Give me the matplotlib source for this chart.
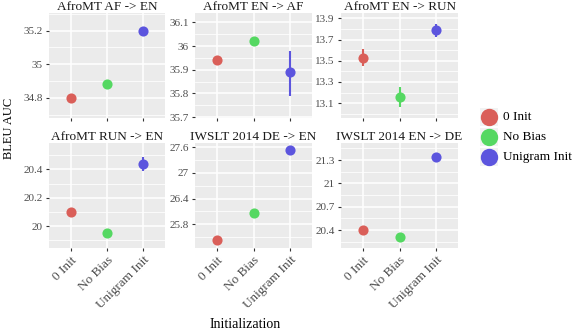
import numpy as np
import matplotlib
matplotlib.use("Agg")
import matplotlib.pyplot as plt
from matplotlib.ticker import AutoMinorLocator

plt.rcParams['font.family'] = ['Liberation Serif', 'DejaVu Serif']

inits = ["0 Init", "No Bias", "Unigram Init"]
colors = ["#DA5F59", "#55D862", "#5C55DE"]

titles = ["AfroMT AF -> EN", "AfroMT EN -> AF", "AfroMT EN -> RUN",
          "AfroMT RUN -> EN", "IWSLT 2014 DE -> EN", "IWSLT 2014 EN -> DE"]
means = [[34.80, 34.88, 35.20],
         [35.94, 36.02, 35.89],
         [13.53, 13.16, 13.79],
         [20.10, 19.95, 20.44],
         [25.43, 26.07, 27.54],
         [20.40, 20.31, 21.34]]
lows = [[34.79, 34.87, 35.19],
        [35.935, 36.015, 35.79],
        [13.45, 13.06, 13.72],
        [20.09, 19.94, 20.39],
        [25.42, 26.06, 27.52],
        [20.39, 20.30, 21.30]]
highs = [[34.81, 34.89, 35.21],
         [35.945, 36.025, 35.98],
         [13.61, 13.25, 13.85],
         [20.11, 19.96, 20.49],
         [25.44, 26.08, 27.56],
         [20.41, 20.32, 21.38]]
yticks = [[34.8, 35.0, 35.2],
          [35.7, 35.8, 35.9, 36.0, 36.1],
          [13.1, 13.3, 13.5, 13.7, 13.9],
          [20.0, 20.2, 20.4],
          [25.8, 26.4, 27.0, 27.6],
          [20.4, 20.7, 21.0, 21.3]]
ylims = [(34.68, 35.305), (35.696, 36.14), (12.96, 13.95),
         (19.845, 20.586), (25.245, 27.70), (20.17, 21.52)]

W, H = 576, 330
fig = plt.figure(figsize=(W / 100, H / 100), dpi=100)

def px_axes(x0, y0, x1, y1):
    return fig.add_axes([x0 / W, 1 - y1 / H, (x1 - x0) / W, (y1 - y0) / H])

cols = [(49, 165), (195, 312), (341, 458)]
rows = [(13, 118), (143, 248)]

for i in range(6):
    r, c = divmod(i, 3)
    ax = px_axes(cols[c][0], rows[r][0], cols[c][1], rows[r][1])
    ax.set_facecolor("#EBEBEB")
    for s in ax.spines.values():
        s.set_visible(False)
    ax.set_xlim(-0.6, 2.6)
    ax.set_ylim(*ylims[i])
    ax.set_xticks(range(3))
    ax.set_yticks(yticks[i])
    ax.set_yticklabels([f"{v:g}" for v in yticks[i]])
    ax.yaxis.set_minor_locator(AutoMinorLocator(2))
    ax.grid(True, which="major", color="white", linewidth=1.1)
    ax.grid(True, which="minor", axis="y", color="white", linewidth=0.55)
    ax.set_axisbelow(True)
    ax.tick_params(axis="both", which="major", length=2.5, width=0.8, color="#333333",
                   labelsize=8, labelcolor="#4D4D4D", pad=2)
    ax.tick_params(axis="x", labelsize=9.5)
    ax.tick_params(axis="y", which="minor", length=0)
    if r == 1:
        ax.set_xticklabels(inits, rotation=45, ha="right", rotation_mode="anchor")
    else:
        ax.set_xticklabels([])
    for k in range(3):
        ax.plot([k, k], [lows[i][k], highs[i][k]], color=colors[k], linewidth=1.5,
                solid_capstyle="butt", zorder=3)
        ax.plot(k, means[i][k], "o", color=colors[k], markersize=7.3,
                markeredgewidth=0, zorder=4)
    ax.set_title(titles[i], fontsize=9.5, pad=2, color="#1A1A1A")

fig.text(9 / W, 1 - 128 / H, "BLEU AUC", rotation=90, ha="center", va="center",
         fontsize=9)
fig.text(245 / W, 1 - 324 / H, "Initialization", ha="center", va="center",
         fontsize=10)

# legend
lax = px_axes(470, 100, 576, 170)
lax.set_xlim(470, 576)
lax.set_ylim(170, 100)
lax.axis("off")
for k, name in enumerate(inits):
    yc = 117 + 20 * k
    lax.add_patch(plt.Rectangle((480, yc - 9), 18, 18, color="#F2F2F2", lw=0))
    lax.plot(489, yc, "o", color=colors[k], markersize=12.5, markeredgewidth=0)
    lax.text(503, yc, name, va="center", ha="left", fontsize=9.5)

fig.savefig("out.png", dpi=100)
